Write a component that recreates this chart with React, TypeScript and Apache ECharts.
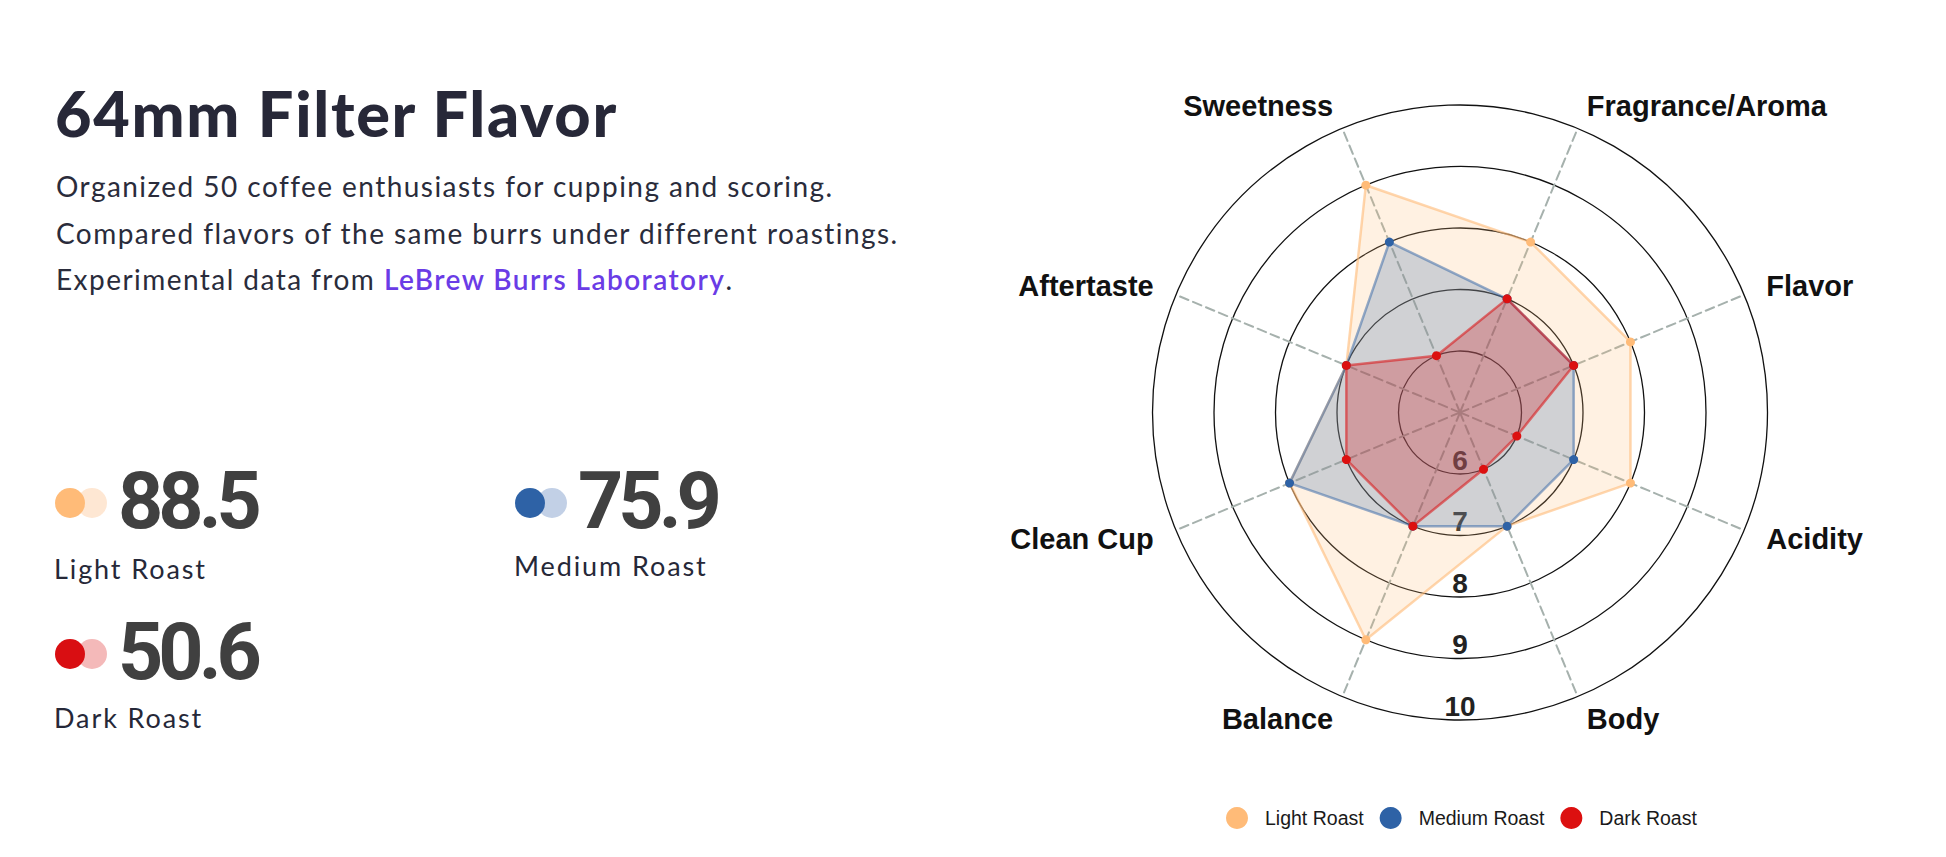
import { useEffect, useRef } from 'react';
import * as echarts from 'echarts';
import type { ECharts } from 'echarts';

// 雷达图各维度（按逆时针顺序，从右上方的 Fragrance/Aroma 开始）
const flavorNames = ['Fragrance/Aroma', 'Sweetness', 'Aftertaste', 'Clean Cup', 'Balance', 'Body', 'Acidity', 'Flavor'];
const lightRoast = [8, 9, 7, 8, 9, 7, 8, 8];
const mediumRoast = [7, 8, 7, 8, 7, 7, 7, 7];
const darkRoast = [7, 6, 7, 7, 7, 6, 6, 7];
const roastNames = ['Light Roast', 'Medium Roast', 'Dark Roast'];
const roastScores = [88.5, 75.9, 50.6];
const scaleMin = 5;
const scaleMax = 10;

const CX = 1460;
const CY = 412.5;
const R = 307.5;

const sansBold = 'Liberation Sans, Arial, Helvetica, sans-serif';
const pageFont = 'Lato, "Open Sans", sans-serif';

const ScoreBlock = ({ left, top, score, label, solid, light, labelTop }: {
    left: number; top: number; score: number; label: string; solid: string; light: string; labelTop: number;
}) => (
    <>
        <div style={{ position: 'absolute', left: left + 22, top: top - 15, width: 30, height: 30, borderRadius: 15, background: light }} />
        <div style={{ position: 'absolute', left, top: top - 15, width: 30, height: 30, borderRadius: 15, background: solid }} />
        <div style={{
            position: 'absolute', left: left + 63, top: top - 41, fontFamily: 'Roboto, sans-serif', fontWeight: 700,
            fontSize: 79, lineHeight: 1, letterSpacing: -5, color: '#404040'
        }}>{score.toFixed(1)}</div>
        <div style={{
            position: 'absolute', left: left - 1, top: labelTop, fontFamily: pageFont, fontSize: 27, lineHeight: 1,
            letterSpacing: 1.9, color: '#262838', whiteSpace: 'nowrap'
        }}>{label}</div>
    </>
);

const RoastRadar = () => {
    const chartRef = useRef<HTMLDivElement>(null);

    useEffect(() => {
        if (!chartRef.current) return;
        const chart: ECharts = echarts.init(chartRef.current, undefined, { renderer: 'svg' });
        chart.setOption({
            animation: false,
            legend: {
                left: 1221,
                top: 802,
                icon: 'circle',
                itemWidth: 22,
                itemHeight: 22,
                itemGap: 16,
                data: roastNames,
                textStyle: { fontSize: 19.5, color: '#1a1a1a', fontFamily: sansBold, padding: [0, 0, 0, 12] }
            },
            radar: {
                center: [CX, CY],
                radius: R,
                startAngle: 67.5,
                shape: 'circle',
                splitNumber: 5,
                nameGap: 24,
                indicator: flavorNames.map(name => ({ name, min: scaleMin, max: scaleMax })),
                axisName: { color: '#111', fontSize: 29, fontWeight: 'bold', fontFamily: sansBold },
                splitLine: { lineStyle: { color: '#111', width: 1.3 } },
                splitArea: { show: false },
                axisLine: { lineStyle: { color: '#a6b1ad', width: 2, type: [9, 5] } },
                axisTick: { show: false },
                axisLabel: { show: false }
            },
            // 只用来在正下方画刻度 6~10
            polar: { center: [CX, CY], radius: R },
            angleAxis: { startAngle: 270, min: 0, max: 360, show: false },
            radiusAxis: {
                min: scaleMin,
                max: scaleMax,
                interval: 1,
                z: 1,
                axisLine: { show: false },
                axisTick: { show: false },
                splitLine: { show: false },
                axisLabel: {
                    showMinLabel: false,
                    margin: 0,
                    rotate: 0,
                    align: 'center',
                    verticalAlign: 'bottom',
                    fontSize: 28,
                    fontWeight: 'bold',
                    fontFamily: sansBold,
                    color: '#222'
                }
            },
            series: [{
                type: 'radar',
                symbol: 'circle',
                symbolSize: 9,
                data: [
                    {
                        name: roastNames[0], value: lightRoast,
                        itemStyle: { color: '#ffbb78' },
                        lineStyle: { color: 'rgba(255,187,120,0.6)', width: 2.5 },
                        areaStyle: { color: 'rgba(255,187,120,0.3)' }
                    },
                    {
                        name: roastNames[1], value: mediumRoast,
                        itemStyle: { color: '#2e62a6' },
                        lineStyle: { color: 'rgba(46,98,166,0.5)', width: 2.5 },
                        areaStyle: { color: 'rgba(66,116,172,0.36)' }
                    },
                    {
                        name: roastNames[2], value: darkRoast,
                        itemStyle: { color: '#dc1010' },
                        lineStyle: { color: 'rgba(220,16,16,0.55)', width: 2.5 },
                        areaStyle: { color: 'rgba(205,20,28,0.4)' }
                    }
                ]
            }]
        });
        return () => {
            chart.dispose();
        };
    }, []);

    return <div ref={chartRef} style={{ position: 'absolute', left: 0, top: 0, width: 1946, height: 857 }} />;
};

const App = () => {
    useEffect(() => {
        document.body.style.margin = '0';
        document.body.style.overflow = 'hidden';
    }, []);

    return (
        <div style={{ position: 'absolute', left: 0, top: 0, width: 1946, height: 857, background: '#fff' }}>
            <RoastRadar />
            <div style={{
                position: 'absolute', left: 55, top: 81, fontFamily: pageFont, fontWeight: 900, fontSize: 63,
                lineHeight: 1, letterSpacing: 1.7, color: '#272838', whiteSpace: 'nowrap'
            }}>64mm Filter Flavor</div>
            <div style={{
                position: 'absolute', left: 56, top: 163, fontFamily: pageFont, fontSize: 28, lineHeight: '46.5px',
                letterSpacing: 1.45, color: '#2a2c3b', whiteSpace: 'nowrap'
            }}>
                Organized 50 coffee enthusiasts for cupping and scoring.<br />
                Compared flavors of the same burrs under different roastings.<br />
                Experimental data from <span style={{ color: '#6a3ce6', fontWeight: 600 }}>LeBrew Burrs Laboratory</span>.
            </div>
            <ScoreBlock left={55} top={503} score={roastScores[0]} label={roastNames[0]} solid="#ffbb78" light="#fee7d3" labelTop={555} />
            <ScoreBlock left={515} top={503} score={roastScores[1]} label={roastNames[1]} solid="#2e62a6" light="#c2d0e6" labelTop={552} />
            <ScoreBlock left={55} top={654} score={roastScores[2]} label={roastNames[2]} solid="#d90e12" light="#f4b9b9" labelTop={704} />
        </div>
    );
};

export default App;
